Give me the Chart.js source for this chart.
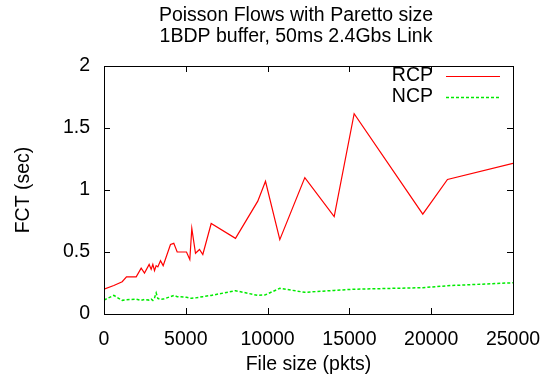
<!DOCTYPE html>
<html>
<head>
<meta charset="utf-8">
<script src="https://cdn.jsdelivr.net/npm/chart.js@4"></script>
<style>
  html, body { margin: 0; padding: 0; background: #fff; }
  canvas { display: block; }
</style>
</head>
<body>
<canvas id="fctChart" width="545" height="377"></canvas>
<script>
// 图表文字
const titleLines = ['Poisson Flows with Paretto size', '1BDP buffer, 50ms 2.4Gbs Link'];
const xTitle = 'File size (pkts)';
const yTitle = 'FCT (sec)';
const seriesNames = ['RCP', 'NCP'];

// 数据
const fileSizes = [0, 600, 1112, 1375, 1968, 2272, 2475, 2760, 2884, 2985, 3087, 3188, 3290, 3453, 3616,
    4064, 4266, 4474, 5042, 5245, 5367, 5593, 5837, 6040, 6552, 8037, 9400, 9871, 10746, 12275,
    14070, 15290, 19485, 20995, 25000];
const rcpFct = [0.20, 0.23, 0.26, 0.30, 0.30, 0.37, 0.33, 0.40, 0.36, 0.40, 0.35, 0.39, 0.38, 0.43, 0.39,
    0.56, 0.57, 0.50, 0.50, 0.44, 0.69, 0.49, 0.52, 0.48, 0.73, 0.61, 0.91, 1.07, 0.60, 1.10,
    0.785, 1.615, 0.805, 1.085, 1.215];
const ncpFct = [0.113, 0.15, 0.11, 0.115, 0.12, 0.11, 0.118, 0.112, 0.12, 0.11, 0.13, 0.17, 0.125, 0.118, 0.12,
    0.14, 0.15, 0.14, 0.135, 0.128, 0.127, 0.13, 0.135, 0.14, 0.15, 0.188, 0.15, 0.155, 0.207, 0.175,
    0.19, 0.20, 0.212, 0.228, 0.252];

const xMax = 25000;
const yMax = 2;

const FONT = "'Liberation Sans', Arial, sans-serif";
const FONT_SIZE = 19.5;

const toPoints = (xs, ys) => xs.map((x, i) => ({ x: x, y: ys[i] }));

// 外框、内向刻度、标题、图例都在这里画
const framePlugin = {
    id: 'gnuplotFrame',
    afterDraw(chart) {
        const { ctx, chartArea: a } = chart;
        const xs = chart.scales.x;
        const ys = chart.scales.y;
        const tick = 6;

        ctx.save();
        ctx.strokeStyle = '#000';
        ctx.lineWidth = 1;
        ctx.beginPath();
        xs.ticks.forEach(t => {
            const px = Math.round(xs.getPixelForValue(t.value)) + 0.5;
            ctx.moveTo(px, a.bottom); ctx.lineTo(px, a.bottom - tick);
            ctx.moveTo(px, a.top); ctx.lineTo(px, a.top + tick);
        });
        ys.ticks.forEach(t => {
            const py = Math.round(ys.getPixelForValue(t.value)) + 0.5;
            ctx.moveTo(a.left, py); ctx.lineTo(a.left + tick, py);
            ctx.moveTo(a.right, py); ctx.lineTo(a.right - tick, py);
        });
        ctx.stroke();
        ctx.strokeRect(Math.round(a.left) + 0.5, Math.round(a.top) + 0.5,
            Math.round(a.right - a.left), Math.round(a.bottom - a.top));

        ctx.fillStyle = '#000';
        ctx.font = `${FONT_SIZE}px ${FONT}`;

        // 标题
        ctx.textAlign = 'center';
        ctx.textBaseline = 'alphabetic';
        ctx.fillText(titleLines[0], 296, 21);
        ctx.fillText(titleLines[1], 296, 42);

        // 坐标轴标题
        ctx.textBaseline = 'middle';
        ctx.fillText(xTitle, (a.left + a.right) / 2, 365);
        ctx.save();
        ctx.translate(24, (a.top + a.bottom) / 2);
        ctx.rotate(-Math.PI / 2);
        ctx.fillText(yTitle, 0, 0);
        ctx.restore();

        // 图例
        chart.data.datasets.forEach((ds, i) => {
            const y = 76 + i * 20.5;
            ctx.textAlign = 'right';
            ctx.fillStyle = '#000';
            ctx.fillText(seriesNames[i], 433, y);
            ctx.strokeStyle = ds.borderColor;
            ctx.lineWidth = ds.borderWidth;
            ctx.setLineDash(ds.borderDash || []);
            ctx.beginPath();
            ctx.moveTo(446, Math.round(y) + 0.5);
            ctx.lineTo(500, Math.round(y) + 0.5);
            ctx.stroke();
            ctx.setLineDash([]);
        });
        ctx.restore();
    }
};

const ctx = document.getElementById('fctChart').getContext('2d');
new Chart(ctx, {
    type: 'line',
    data: {
        datasets: [{
            label: seriesNames[0],
            data: toPoints(fileSizes, rcpFct),
            borderColor: 'rgb(255, 0, 0)',
            borderWidth: 1.2,
            tension: 0,
            pointRadius: 0
        }, {
            label: seriesNames[1],
            data: toPoints(fileSizes, ncpFct),
            borderColor: 'rgb(0, 235, 0)',
            borderWidth: 1.5,
            borderDash: [3, 2],
            tension: 0,
            pointRadius: 0
        }]
    },
    options: {
        responsive: false,
        animation: false,
        layout: {
            padding: { top: 66, right: 32, bottom: 0, left: 0 }
        },
        plugins: {
            legend: { display: false },
            title: { display: false },
            tooltip: { enabled: false }
        },
        scales: {
            x: {
                type: 'linear',
                min: 0,
                max: xMax,
                grid: { display: false, drawTicks: false },
                border: { display: false },
                afterFit: s => {
                    s.height = 63;
                    s.paddingLeft = 0;
                    s.paddingRight = 0;
                },
                ticks: {
                    stepSize: 5000,
                    padding: 14,
                    color: '#000',
                    maxRotation: 0,
                    font: { family: FONT, size: FONT_SIZE },
                    callback: v => String(v)
                }
            },
            y: {
                min: 0,
                max: yMax,
                grid: { display: false, drawTicks: false },
                border: { display: false },
                afterFit: s => {
                    s.width = 104;
                    s.paddingTop = 0;
                    s.paddingBottom = 0;
                },
                ticks: {
                    stepSize: 0.5,
                    padding: 14,
                    color: '#000',
                    font: { family: FONT, size: FONT_SIZE },
                    callback: v => String(v)
                }
            }
        }
    },
    plugins: [framePlugin]
});
</script>
</body>
</html>
